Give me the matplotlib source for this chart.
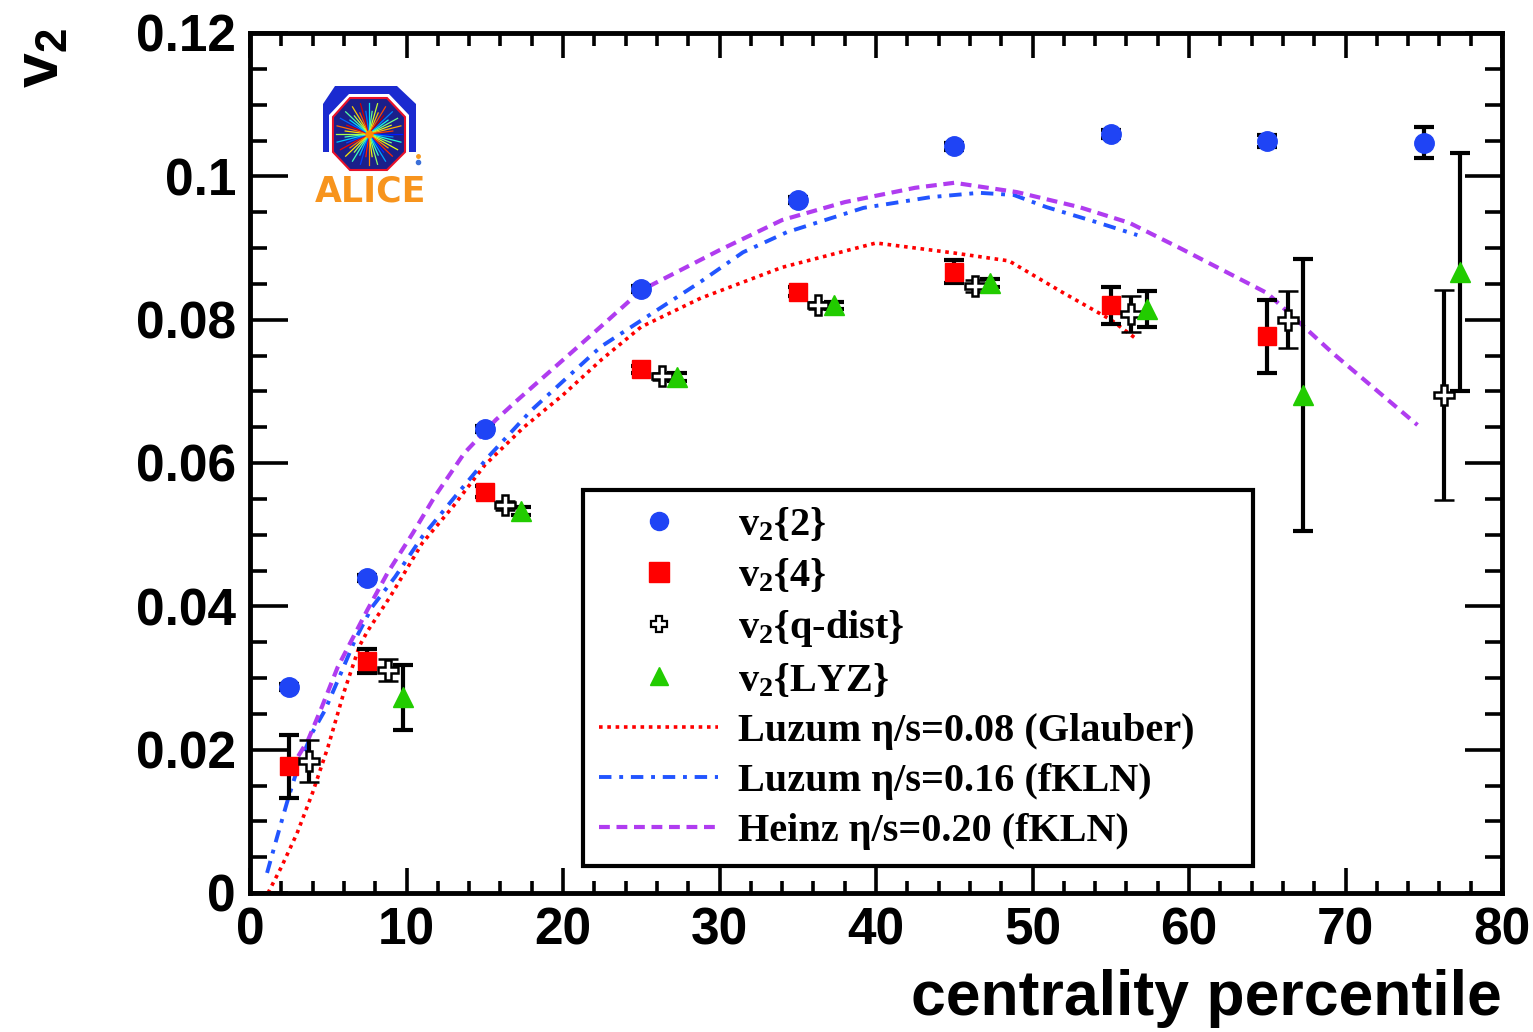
import numpy as np
import matplotlib
matplotlib.use("Agg")
import matplotlib.pyplot as plt
from matplotlib.lines import Line2D
from matplotlib.patches import Polygon
from matplotlib.ticker import MultipleLocator, FuncFormatter

plt.rcParams['mathtext.default'] = 'regular'

# measured points (centrality %, v2, stat err)
x_v22 = [2.5, 7.5, 15, 25, 35, 45, 55, 65, 75]
v22 = [0.0287, 0.0440, 0.0647, 0.0843, 0.0967, 0.1042, 0.1059, 0.1049, 0.1047]
v22_err = [0.0004, 0.0004, 0.0004, 0.0004, 0.0004, 0.0005, 0.0006, 0.0008, 0.0022]

x_v24 = [2.5, 7.5, 15, 25, 35, 45, 55, 65]
v24 = [0.0177, 0.0324, 0.0560, 0.0731, 0.0839, 0.0867, 0.0820, 0.0777]
v24_err = [0.0044, 0.0017, 0.0008, 0.0005, 0.0006, 0.0016, 0.0026, 0.0051]

x_vq = [3.8, 8.8, 16.3, 26.3, 36.3, 46.3, 56.3, 66.3, 76.3]
vq = [0.0184, 0.0311, 0.0541, 0.0721, 0.0820, 0.0847, 0.0808, 0.0800, 0.0695]
vq_err = [0.0029, 0.0015, 0.0006, 0.0005, 0.0005, 0.0008, 0.0025, 0.0040, 0.0146]

x_lyz = [9.8, 17.3, 27.3, 37.3, 47.3, 57.3, 67.3, 77.3]
vlyz = [0.0273, 0.0533, 0.0720, 0.0820, 0.0851, 0.0815, 0.0695, 0.0866]
vlyz_err = [0.0045, 0.0006, 0.0005, 0.0005, 0.0006, 0.0025, 0.0190, 0.0166]

# hydro curves
x_glau = [1.15, 2, 3, 4, 5, 6, 7, 7.5, 9, 11, 13, 15, 17.5, 20, 22.5, 25, 28.8, 34, 40, 45, 48.5, 52, 55, 56.7]
v_glau = [0.0, 0.0036, 0.0083, 0.014, 0.0205, 0.028, 0.0345, 0.0365, 0.0415, 0.0488, 0.054, 0.0597,
          0.065, 0.0695, 0.0745, 0.0790, 0.0830, 0.0873, 0.0907, 0.0893, 0.0882, 0.0837, 0.0800, 0.0772]

x_fkln = [1.09, 1.73, 2.36, 3.07, 3.96, 4.79, 5.62, 6.71, 7.8, 9.27, 11.0, 13.1, 15.2, 18.0, 22.4,
          28.8, 31.5, 34.3, 39.2, 43.5, 46.6, 48.8, 50.9, 54.1, 56.7]
v_fkln = [0.0028, 0.0078, 0.0126, 0.0176, 0.0223, 0.0255, 0.0297, 0.0353, 0.0399, 0.0441, 0.0497,
          0.0553, 0.0608, 0.0674, 0.0762, 0.0853, 0.0894, 0.0922, 0.0956, 0.0971, 0.0977, 0.0974,
          0.0957, 0.0936, 0.0918]

x_heinz = [2.5, 3.7, 4.6, 5.6, 6.5, 7.5, 8.8, 10.4, 11.8, 13.7, 15.7, 17.1, 22.4, 25, 30, 34, 38,
           42.5, 45, 49, 53, 56.2, 59.5, 65, 69.2, 74.6]
v_heinz = [0.017, 0.0213, 0.0260, 0.0315, 0.0353, 0.0395, 0.0447, 0.0502, 0.0553, 0.0614, 0.066,
           0.0688, 0.079, 0.0841, 0.0897, 0.0939, 0.0964, 0.0984, 0.0991, 0.0978, 0.0957, 0.0935,
           0.0899, 0.0837, 0.0753, 0.0653]

c_blue = '#1f44f5'
c_red = '#ff0000'
c_green = '#22cc00'
c_violet = '#b03cf0'
c_lblue = '#2255ff'

fig = plt.figure(figsize=(15.33, 10.32), dpi=100)
ax = fig.add_axes([250 / 1533, 1 - 893 / 1032, 1252 / 1533, 860 / 1032])

ax.plot(x_glau, v_glau, color=c_red, lw=2.6, linestyle=(0, (1, 1.3)), zorder=2)
ax.plot(x_fkln, v_fkln, color=c_lblue, lw=2.8, linestyle=(0, (3.2, 2.0, 1.0, 2.0)), zorder=2)
ax.plot(x_heinz, v_heinz, color=c_violet, lw=3.0, linestyle=(0, (2.6, 1.6)), zorder=2)

eb = dict(ecolor='k', elinewidth=3, capsize=7, capthick=3, linestyle='none', zorder=3)
ax.errorbar(x_v22, v22, yerr=v22_err, marker='o', ms=14, mfc=c_blue, mec=c_blue, **eb)
ax.errorbar(x_v24, v24, yerr=v24_err, marker='s', ms=13, mfc=c_red, mec=c_red, **eb)
ax.errorbar(x_vq, vq, yerr=vq_err, marker='P', ms=15, mfc='white', mec='k', mew=1.8, **eb)
ax.errorbar(x_lyz, vlyz, yerr=vlyz_err, marker='^', ms=15, mfc=c_green, mec=c_green, **eb)

ax.set_xlim(0, 80)
ax.set_ylim(0, 0.12)
ax.xaxis.set_major_locator(MultipleLocator(10))
ax.xaxis.set_minor_locator(MultipleLocator(2))
ax.yaxis.set_major_locator(MultipleLocator(0.02))
ax.yaxis.set_minor_locator(MultipleLocator(0.005))
ax.yaxis.set_major_formatter(FuncFormatter(lambda v, p: '%g' % round(v, 3)))
ax.tick_params(axis='both', which='both', direction='in', top=True, right=True, width=2.6)
ax.tick_params(axis='x', which='major', length=18, pad=10)
ax.tick_params(axis='x', which='minor', length=9)
ax.tick_params(axis='y', which='major', length=27, pad=10)
ax.tick_params(axis='y', which='minor', length=12)
for lab in ax.get_xticklabels() + ax.get_yticklabels():
    lab.set_fontfamily('Liberation Sans')
    lab.set_fontweight('bold')
    lab.set_fontsize(37)
for s in ax.spines.values():
    s.set_linewidth(3.5)

fig.text(42 / 1533, 1 - 58 / 1032, 'v$_2$', rotation=90, ha='center', va='center',
         family='Liberation Sans', weight='bold', fontsize=45)
fig.text(1502 / 1533, 1 - 998 / 1032, 'centrality percentile', ha='right', va='center',
         family='Liberation Sans', weight='bold', fontsize=45)

handles = [
    Line2D([], [], marker='o', ms=13, color=c_blue, linestyle='none'),
    Line2D([], [], marker='s', ms=14, color=c_red, linestyle='none'),
    Line2D([], [], marker='P', ms=12, mfc='white', mec='k', mew=1.6, linestyle='none'),
    Line2D([], [], marker='^', ms=13, color=c_green, linestyle='none'),
    Line2D([], [], color=c_red, lw=2.6, linestyle=(0, (1, 1.3))),
    Line2D([], [], color=c_lblue, lw=2.8, linestyle=(0, (3.2, 2.0, 1.0, 2.0))),
    Line2D([], [], color=c_violet, lw=3.0, linestyle=(0, (2.6, 1.6))),
]
labels = ['v$_2${2}', 'v$_2${4}', 'v$_2${q-dist}', 'v$_2${LYZ}',
          'Luzum η/s=0.08 (Glauber)', 'Luzum η/s=0.16 (fKLN)', 'Heinz η/s=0.20 (fKLN)']
leg = ax.legend(handles, labels, loc='upper left', mode='expand',
                bbox_to_anchor=(0.266, 0.0384, 0.535, 0.4302), borderaxespad=0,
                prop={'family': 'Liberation Serif', 'weight': 'bold', 'size': 29},
                handlelength=2.95, handletextpad=0.5, labelspacing=0.32, borderpad=0.4,
                fancybox=False, framealpha=1, edgecolor='k')
leg.get_frame().set_linewidth(3)
leg.set_zorder(5)

# ALICE logo (inset in pixel coordinates)
lax = fig.add_axes([305 / 1533, 1 - 215 / 1032, 135 / 1533, 135 / 1032])
lax.set_xlim(305, 440)
lax.set_ylim(215, 80)
lax.axis('off')
lax.add_patch(Polygon([(323, 104), (335, 86), (397, 86), (416, 104), (416, 152), (323, 152)],
                      closed=True, facecolor='#1a2ad0', edgecolor='none'))
oct_out = [(349, 94), (389, 94), (409, 115), (409, 155), (389, 174), (349, 174), (329, 155), (329, 115)]
lax.add_patch(Polygon(oct_out, closed=True, facecolor='white', edgecolor='none'))
oct_in = [(350, 98), (387, 98), (405, 117), (405, 152), (387, 170), (350, 170), (333, 152), (333, 117)]
lax.add_patch(Polygon(oct_in, closed=True, facecolor='#1b1f8a', edgecolor='#e8102a', lw=1.5))
cx, cy = 369, 134
angs = np.linspace(0, 2 * np.pi, 48, endpoint=False)
cols = plt.cm.jet(np.linspace(0.15, 0.95, len(angs)))
for k, a in enumerate(angs):
    r = 33 if k % 2 == 0 else 24
    lax.plot([cx, cx + r * np.cos(a)], [cy, cy + 0.95 * r * np.sin(a)],
             color=cols[(k * 7) % len(angs)], lw=0.9)
lax.plot(cx, cy, marker='o', ms=5, color='#ff8c00')
lax.plot(418, 162, marker='o', ms=3, color='#3a6fd8')
lax.plot(418, 156, marker='o', ms=2.5, color='#f59a20')
lax.text(371, 192, 'ALICE', ha='center', va='center', family='DejaVu Sans', weight='bold',
         fontsize=25, color='#f7941d')

fig.savefig('out.png', dpi=100)
